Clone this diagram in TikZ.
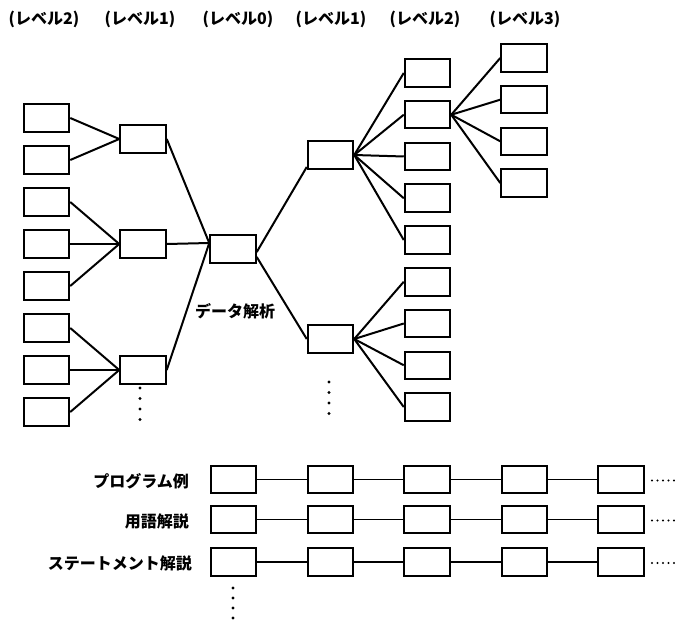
\documentclass[tikz,border=0pt]{standalone}
\usepackage{fontspec}
\newfontfamily\cjk{Noto Sans CJK JP}
\begin{document}
\begin{tikzpicture}[x=1pt,y=-1pt,
  box/.style={draw,line width=2pt,minimum width=45.5pt,minimum height=27.5pt,inner sep=0pt},
  conn/.style={line width=2pt},
  rowconn/.style={line width=1.4pt},
  lab/.style={font=\cjk\bfseries\fontsize{16}{16}\selectfont,inner sep=0pt},
  rowlab/.style={font=\cjk\bfseries\fontsize{16}{16}\selectfont,inner sep=0pt,anchor=east},
  dotmark/.style={circle,fill,inner sep=0pt,minimum size=3.2pt},
  smalldot/.style={circle,fill,inner sep=0pt,minimum size=2.4pt}]
\useasboundingbox (0,0) rectangle (675,623);
% level labels
\node[lab] (h1) at (44,19) {(レベル2)};
\node[lab] (h2) at (140,19) {(レベル1)};
\node[lab] (h3) at (238,19) {(レベル0)};
\node[lab] (h4) at (331,19) {(レベル1)};
\node[lab] (h5) at (425,19) {(レベル2)};
\node[lab] (h6) at (525,19) {(レベル3)};
% left level 2
\foreach \y [count=\i] in {118,160,202,244,286,328,370,412}
  \node[box] (a\i) at (46.5,\y) {};
% left level 1
\node[box] (b1) at (143,139) {};
\node[box] (b2) at (143,244) {};
\node[box] (b3) at (143,370) {};
% level 0
\node[box] (c) at (233,249) {};
\node[lab] (clab) at (235,311) {データ解析};
% right level 1
\node[box] (d1) at (330.5,155) {};
\node[box] (d2) at (330.5,339) {};
% right level 2
\foreach \y [count=\i] in {73,114.75,156.5,198.25,240,281.75,323.5,365.25,407}
  \node[box] (e\i) at (427.5,\y) {};
% level 3
\foreach \y [count=\i] in {58,99.7,141.3,183}
  \node[box] (f\i) at (524,\y) {};
% connectors
\foreach \i in {1,2} \draw[conn] (a\i.east) -- (b1.west);
\foreach \i in {3,4,5} \draw[conn] (a\i.east) -- (b2.west);
\foreach \i in {6,7,8} \draw[conn] (a\i.east) -- (b3.west);
\coordinate (cin) at ([yshift=6pt]c.west);
\foreach \i in {1,2,3} \draw[conn] (b\i.east) -- (cin);
\draw[conn] ([yshift=-3pt]c.east) -- ([yshift=-12pt]d1.west);
\draw[conn] ([yshift=-8pt]c.east) -- (d2.west);
\foreach \i in {1,...,5} \draw[conn] (d1.east) -- (e\i.west);
\foreach \i in {6,...,9} \draw[conn] (d2.east) -- (e\i.west);
\foreach \i in {1,...,4} \draw[conn] (e2.east) -- (f\i.west);
% vertical dots
\foreach \y in {388,398.5,409,419.5} \node[dotmark] at (140,\y) {};
\foreach \y in {382,392.5,403,413.5} \node[dotmark] at (329,\y) {};
% bottom rows
\node[rowlab] (l1) at (189,481) {プログラム例};
\node[rowlab] (l2) at (189,521) {用語解説};
\node[rowlab] (l3) at (192,563) {ステートメント解説};
\foreach \y [count=\r] in {479.5,519.5,562} {
  \foreach \x [count=\k] in {233.5,330.5,427,524.5,621}
    \node[box] (p\r\k) at (\x,\y) {};
  \foreach \k [evaluate=\k as \n using int(\k+1)] in {1,2,3,4}
    \draw[rowconn] (p\r\k.east) -- (p\r\n.west);
  \foreach \x in {652,657.5,663,668.5,674}
    \node[smalldot] at (\x,\y+1) {};
}
\foreach \y in {588,598,608,618} \node[dotmark] at (233,\y) {};
\end{tikzpicture}
\end{document}
